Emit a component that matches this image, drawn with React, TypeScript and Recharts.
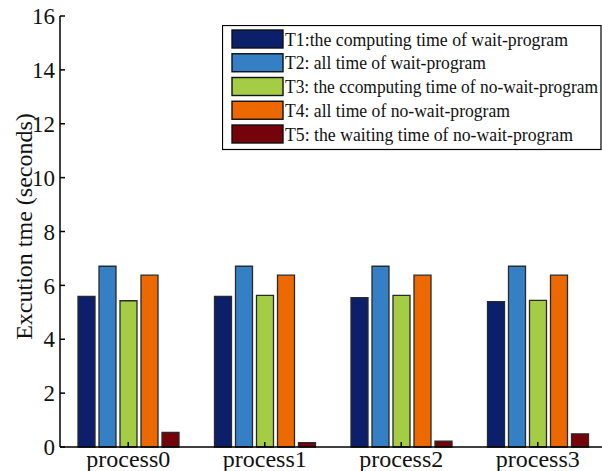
import { BarChart, Bar, XAxis, YAxis, Legend } from "recharts";

const categories = ["process0", "process1", "process2", "process3"];
const t1Values = [5.59, 5.59, 5.54, 5.4];
const t2Values = [6.71, 6.71, 6.71, 6.71];
const t3Values = [5.43, 5.63, 5.63, 5.44];
const t4Values = [6.38, 6.38, 6.38, 6.38];
const t5Values = [0.54, 0.16, 0.22, 0.49];

const seriesKeys = ["t1", "t2", "t3", "t4", "t5"];
const seriesNames = [
  "T1:the computing time of wait-program",
  "T2: all time of wait-program",
  "T3: the ccomputing time of no-wait-program",
  "T4: all time of no-wait-program",
  "T5: the waiting time of no-wait-program",
];
const seriesColors = ["#0b1f6b", "#3580c5", "#a4cc45", "#ec6800", "#75030a"];
const yTicks = [0, 2, 4, 6, 8, 10, 12, 14, 16];

// legend text widths (the original font is narrow)
const legendTextWidths = [283, 201, 313, 225, 288];

const data = categories.map((name, i) => ({
  name,
  t1: t1Values[i],
  t2: t2Values[i],
  t3: t3Values[i],
  t4: t4Values[i],
  t5: t5Values[i],
}));

const FONT = "Liberation Serif";

function LegendBox() {
  const rowTop = 14;
  const rowStep = 23.75;
  return (
    <svg width={380} height={126} style={{ display: "block" }}>
      <rect x={0.5} y={0.5} width={378.5} height={124} fill="#fff" stroke="#000" strokeWidth={1.2} />
      {seriesNames.map((label, i) => {
        const cy = rowTop + i * rowStep;
        return (
          <g key={label}>
            <rect x={10} y={cy - 9} width={51} height={18} fill={seriesColors[i]} stroke="#111" strokeWidth={1.4} />
            <text
              x={63}
              y={cy + 6.5}
              fontFamily={FONT}
              fontSize={19}
              fill="#111"
              textLength={legendTextWidths[i]}
              lengthAdjust="spacingAndGlyphs"
            >
              {label}
            </text>
          </g>
        );
      })}
    </svg>
  );
}

function YLabel(props: any) {
  const vb = props.viewBox || { x: 0, y: 16, height: 431 };
  const cx = 24;
  const cy = vb.y + vb.height / 2 - 5;
  return (
    <text
      x={cx}
      y={cy}
      dy="0.35em"
      transform={`rotate(-90 ${cx} ${cy})`}
      textAnchor="middle"
      fontFamily={FONT}
      fontSize={24}
      fill="#111"
    >
      Excution tme (seconds)
    </text>
  );
}

export default function App() {
  const axisStroke = { stroke: "#000", strokeWidth: 1.5 };
  return (
    <div
      style={{
        position: "absolute",
        left: 0,
        top: 0,
        width: 602,
        height: 471,
        overflow: "hidden",
        background: "#fff",
      }}
    >
      <BarChart
        width={615}
        height={471}
        data={data}
        margin={{ top: 16, right: 9, left: 0, bottom: 0 }}
        barSize={17}
        barGap={4}
      >
        <XAxis
          dataKey="name"
          height={24}
          interval={0}
          tickSize={-5}
          tickMargin={8}
          axisLine={axisStroke}
          tickLine={axisStroke}
          tick={{ fontSize: 24, fill: "#111", fontFamily: FONT }}
        />
        <XAxis
          xAxisId="top"
          dataKey="name"
          orientation="top"
          height={0}
          interval={0}
          tickSize={-5}
          tick={false}
          axisLine={axisStroke}
          tickLine={axisStroke}
        />
        <YAxis
          width={60}
          domain={[0, 16]}
          ticks={yTicks}
          interval={0}
          tickSize={-5}
          tickMargin={10}
          axisLine={axisStroke}
          tickLine={axisStroke}
          tick={{ fontSize: 23, fill: "#111", fontFamily: FONT }}
          label={<YLabel />}
        />
        <YAxis
          yAxisId="right"
          orientation="right"
          width={0}
          domain={[0, 16]}
          ticks={yTicks}
          interval={0}
          tickSize={-5}
          tick={false}
          axisLine={axisStroke}
          tickLine={axisStroke}
        />
        <Legend
          layout="vertical"
          align="center"
          verticalAlign="middle"
          wrapperStyle={{ position: "absolute", left: 222, top: 25, width: 380, height: 126 }}
          content={() => <LegendBox />}
        />
        {seriesKeys.map((key, i) => (
          <Bar
            key={key}
            dataKey={key}
            name={seriesNames[i]}
            fill={seriesColors[i]}
            stroke="#2a2a2a"
            strokeWidth={1.3}
            isAnimationActive={false}
          />
        ))}
      </BarChart>
    </div>
  );
}
